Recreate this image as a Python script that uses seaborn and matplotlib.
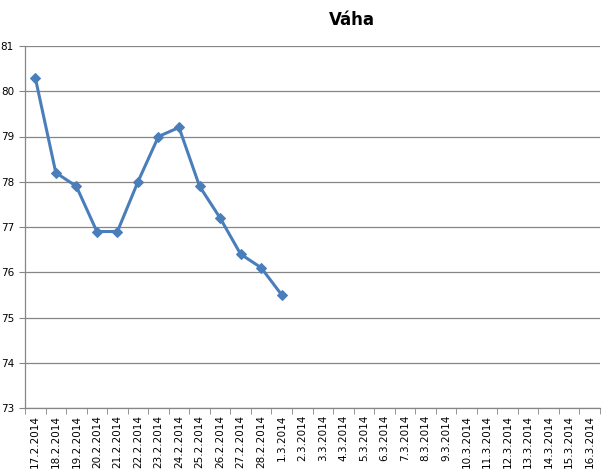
import numpy as np
import pandas as pd
import matplotlib
matplotlib.use('Agg')
import matplotlib.pyplot as plt
from matplotlib.ticker import FixedLocator
import seaborn as sns

# Data
dates = ['17.2.2014', '18.2.2014', '19.2.2014', '20.2.2014', '21.2.2014', '22.2.2014',
         '23.2.2014', '24.2.2014', '25.2.2014', '26.2.2014', '27.2.2014', '28.2.2014',
         '1.3.2014', '2.3.2014', '3.3.2014', '4.3.2014', '5.3.2014', '6.3.2014',
         '7.3.2014', '8.3.2014', '9.3.2014', '10.3.2014', '11.3.2014', '12.3.2014',
         '13.3.2014', '14.3.2014', '15.3.2014', '16.3.2014']
weights = [80.3, 78.2, 77.9, 76.9, 76.9, 78.0, 79.0, 79.2, 77.9, 77.2, 76.4, 76.1, 75.5]
y_ticks = [73, 74, 75, 76, 77, 78, 79, 80, 81]

df = pd.DataFrame({'idx': np.arange(len(weights)), 'vaha': weights})

sns.set_style('white')
plt.rcParams['font.family'] = ['DejaVu Sans']

fig = plt.figure(figsize=(6.07, 4.75), dpi=100)
ax = fig.add_axes([25 / 607, 1 - 408 / 475, 575 / 607, 362 / 475])

line_color = '#4a7ebb'
sns.lineplot(data=df, x='idx', y='vaha', ax=ax, color=line_color, linewidth=2.2,
             marker='D', markersize=5.5, markeredgecolor=line_color, sort=False)

ax.set_xlim(-0.5, len(dates) - 0.5)
ax.set_ylim(73, 81)
ax.set_yticks(y_ticks)
ax.set_yticklabels([str(t) for t in y_ticks], fontsize=7.5, color='black')
ax.yaxis.grid(True, color='#868686', linewidth=0.9)
ax.xaxis.grid(False)
ax.set_axisbelow(True)

ax.set_xticks(np.arange(len(dates)))
ax.set_xticklabels(dates, rotation=90, fontsize=7.5, color='black')
ax.xaxis.set_minor_locator(FixedLocator(np.arange(len(dates) + 1) - 0.5))
ax.tick_params(axis='x', which='major', length=0, pad=5)
ax.tick_params(axis='x', which='minor', length=4, color='#868686', direction='out', bottom=True)
ax.tick_params(axis='y', length=4, color='#868686', direction='out', left=True, pad=4)

for side in ['top', 'right']:
    ax.spines[side].set_visible(False)
for side in ['left', 'bottom']:
    ax.spines[side].set_color('#868686')
    ax.spines[side].set_linewidth(0.9)

ax.set_xlabel('')
ax.set_ylabel('')
fig.text(352 / 607, 1 - 20 / 475, 'Váha', fontsize=12, fontweight='bold',
         color='black', ha='center', va='center')

fig.savefig('out.png', dpi=100)
